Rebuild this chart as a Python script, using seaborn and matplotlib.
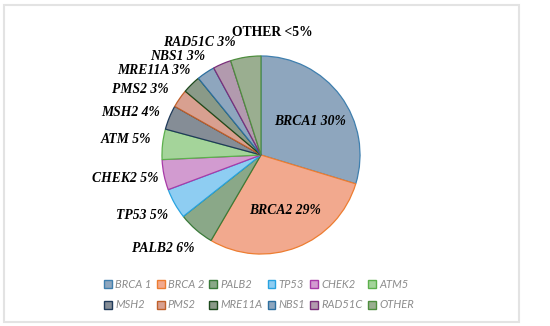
import matplotlib
matplotlib.use("Agg")
import matplotlib.pyplot as plt
import seaborn as sns
from matplotlib.patches import Patch, Rectangle

genes = ["BRCA 1", "BRCA 2", "PALB2", "TP53", "CHEK2", "ATM5",
         "MSH2", "PMS2", "MRE11A", "NBS1", "RAD51C", "OTHER"]
values = [30, 29, 6, 5, 5, 5, 4, 3, 3, 3, 3, 5]
slice_labels = ["BRCA1 30%", "BRCA2 29%", "PALB2 6%", "TP53 5%", "CHEK2 5%",
                "ATM 5%", "MSH2 4%", "PMS2 3%", "MRE11A 3%", "NBS1 3%",
                "RAD51C 3%", "OTHER <5%"]

fill_colors = ["#8ea6be", "#f2a98e", "#8aa888", "#8ecdf2", "#d29bd0", "#a4d49a",
               "#858d96", "#d8a090", "#8a9a88", "#8ea6be", "#b29aae", "#9aae90"]
edge_colors = ["#3f7fae", "#ed7d31", "#3a7a3a", "#29a3e0", "#a83aa8", "#5cb04c",
               "#1f3a5a", "#c0602a", "#1e4a1e", "#2d6f9f", "#7a2f7a", "#4e8e3e"]

# label placement (pie-radius units, relative to centre)
label_xy = [(0.50, 0.34), (0.24, -0.56), (-0.99, -0.94), (-1.20, -0.61),
            (-1.37, -0.24), (-1.36, 0.16), (-1.32, 0.43), (-1.22, 0.66),
            (-1.08, 0.85), (-0.84, 0.99), (-0.62, 1.14), (0.11, 1.24)]

sns.set_theme(style="white")
palette = sns.color_palette(fill_colors)

W, H = 550, 326
fig = plt.figure(figsize=(5.5, 3.26), dpi=100)
fig.patch.set_facecolor("white")
fig.add_artist(Rectangle((4 / W, 4 / H), 515 / W, 317 / H, transform=fig.transFigure,
                         fill=False, edgecolor="#e3e3e3", linewidth=1.5))

cx, cy, r = 261, 155, 101
ax = fig.add_axes([(cx - r) / W, (H - cy - r) / H, 2 * r / W, 2 * r / H])
wedges, _ = ax.pie(values, colors=palette, startangle=90, counterclock=False,
                   radius=1.0,
                   wedgeprops=dict(linewidth=0.9))
for w, ec in zip(wedges, edge_colors):
    w.set_edgecolor(ec)
ax.set_xlim(-1.02, 1.02)
ax.set_ylim(-1.02, 1.02)
ax.set_axis_off()

for i, (lab, (x, y)) in enumerate(zip(slice_labels, label_xy)):
    style = "normal" if lab.startswith("OTHER") else "italic"
    ax.text(x, y, lab, ha="center", va="center", fontsize=9.8,
            family="Liberation Serif", fontweight="bold", fontstyle=style,
            color="black", clip_on=False)

handles = [Patch(facecolor=fc, edgecolor=ec, linewidth=1.0)
           for fc, ec in zip(fill_colors, edge_colors)]
ncol = 6
order = [r_ * ncol + c for c in range(ncol) for r_ in range(2)]
leg = fig.legend([handles[i] for i in order], [genes[i] for i in order], ncol=ncol,
                 loc="center", bbox_to_anchor=(259 / W, 1 - 294.5 / H),
                 frameon=False, handlelength=0.7, handleheight=0.7, handletextpad=0.3,
                 columnspacing=0.45, labelspacing=0.9,
                 prop=dict(family="Lato", style="italic", size=8))
for t in leg.get_texts():
    t.set_color("#8c8c8c")

fig.savefig("out.png", dpi=100, facecolor="white")
